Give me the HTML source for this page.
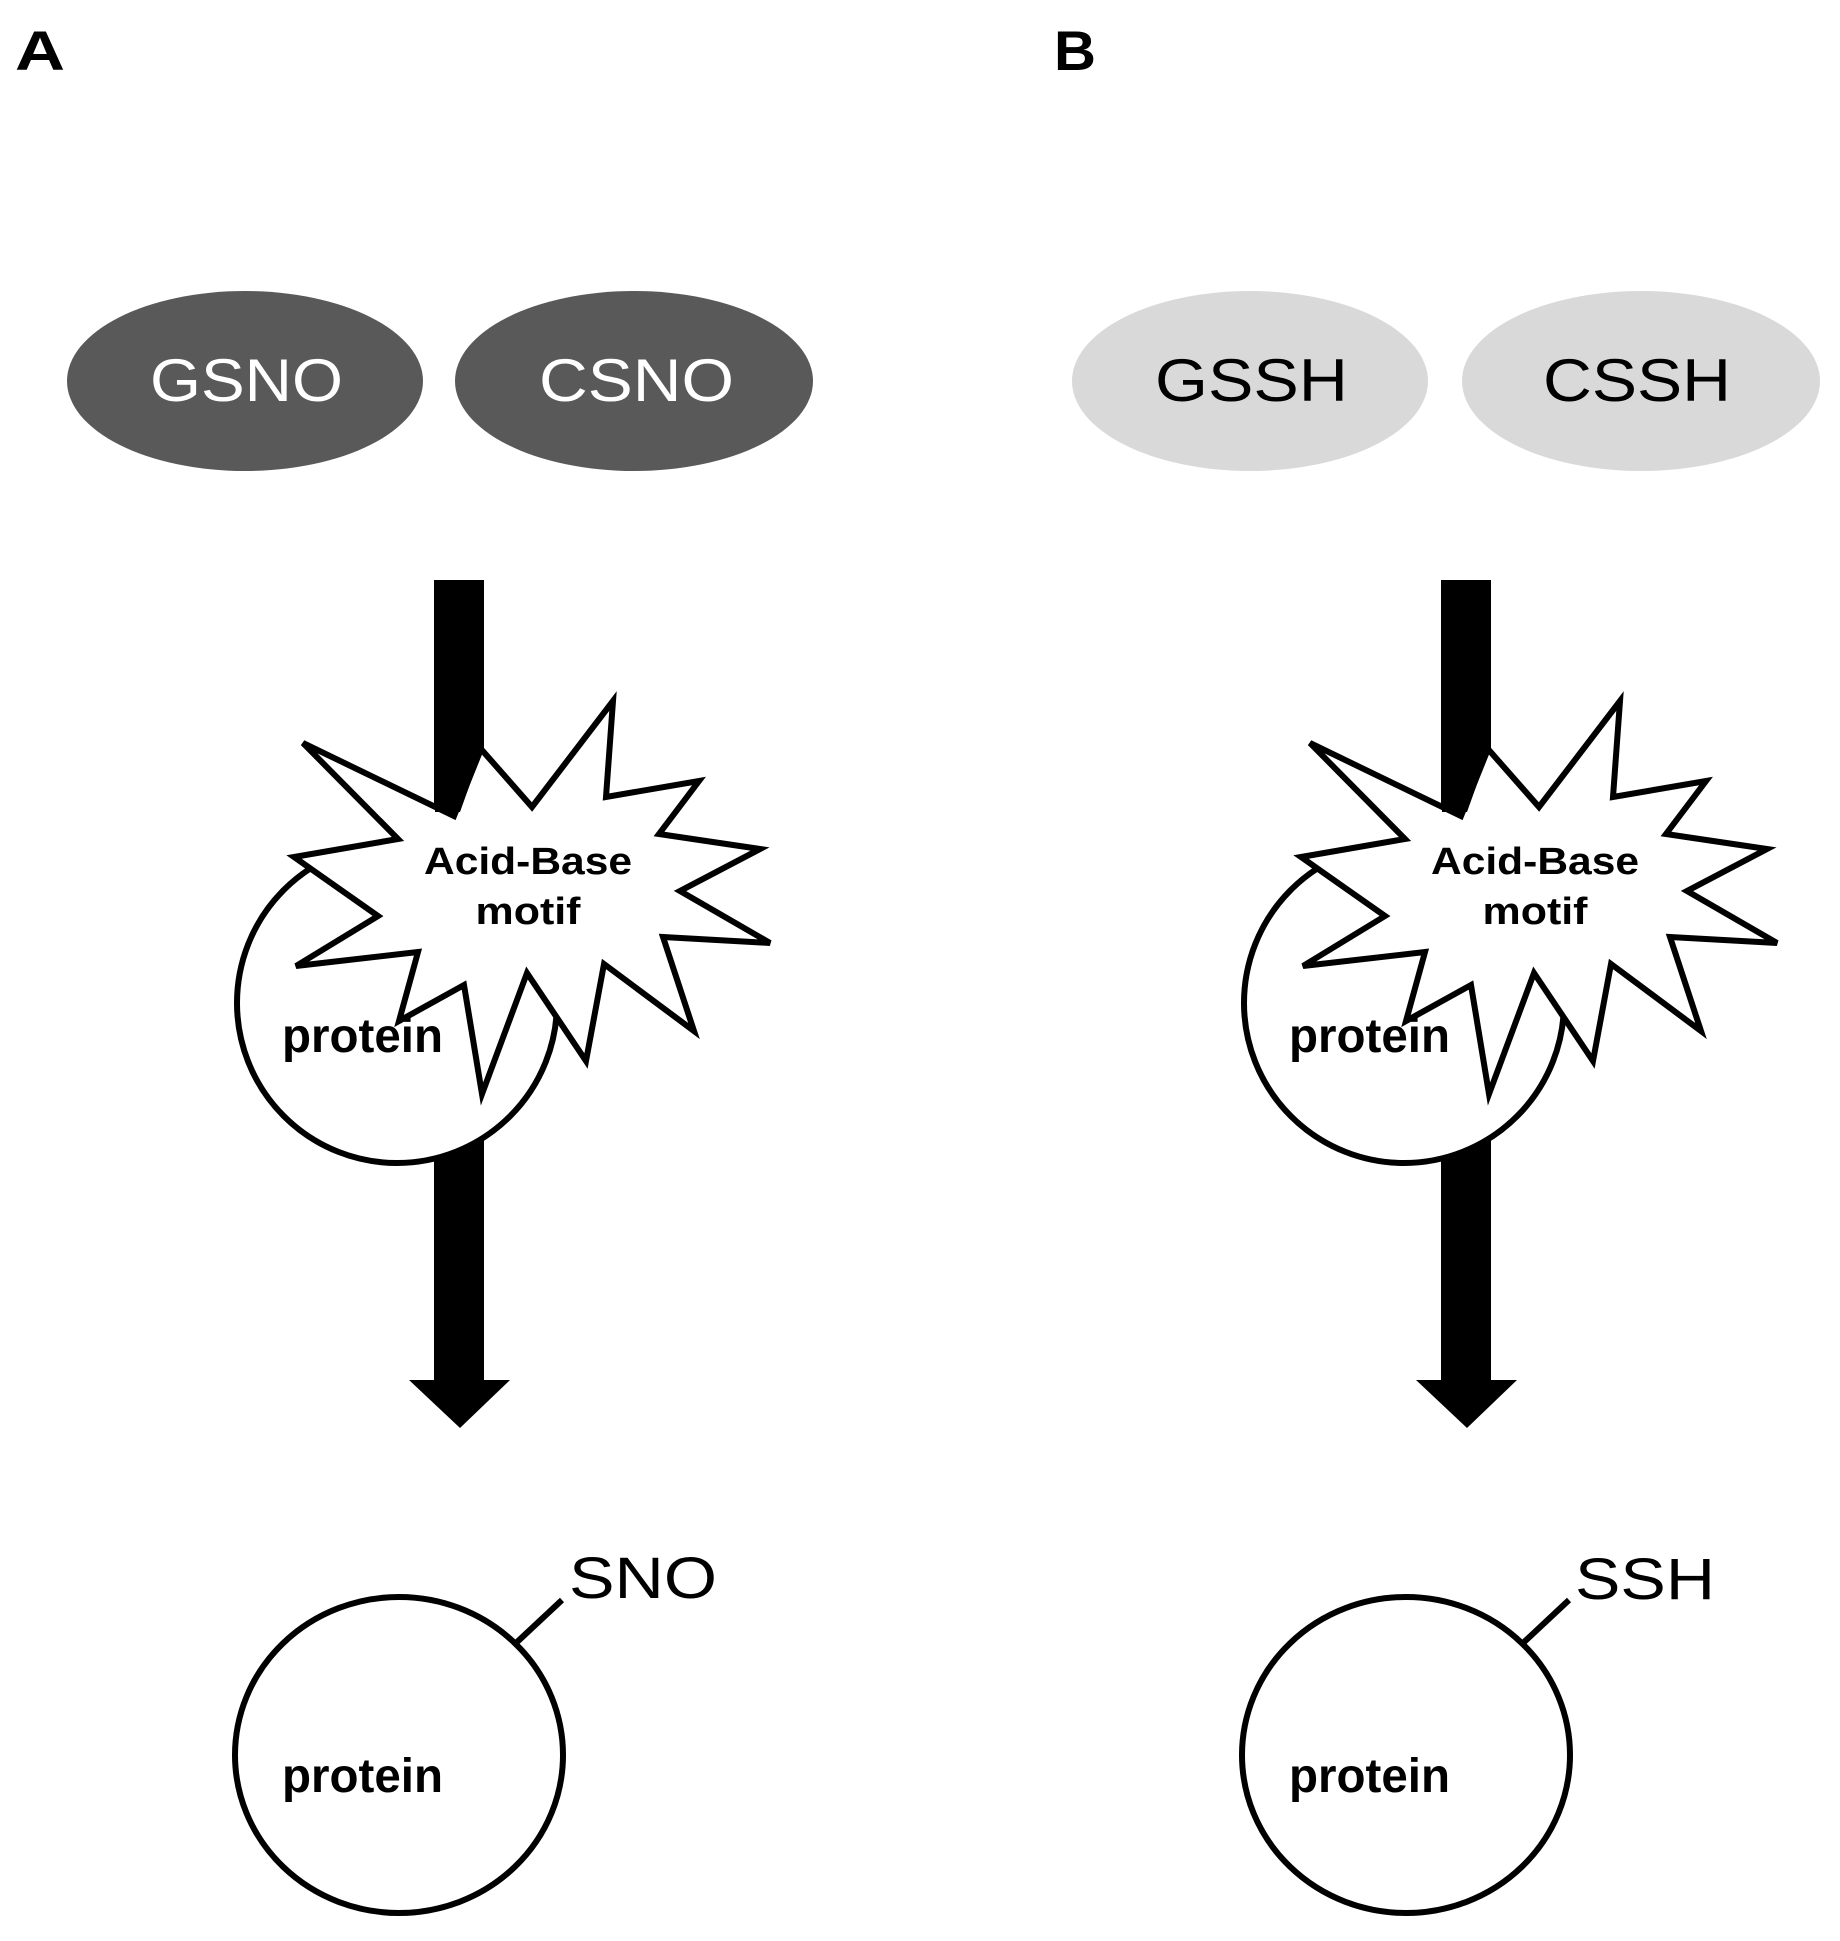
<!DOCTYPE html>
<html><head><style>html,body{margin:0;padding:0;background:#fff}svg{display:block}</style></head>
<body>
<svg width="1840" height="1941" viewBox="0 0 1840 1941" xmlns="http://www.w3.org/2000/svg" font-family="Liberation Sans, Arial, sans-serif">
<defs>
<g id="panel">
  <rect x="434" y="580" width="50" height="800" fill="#000"/>
  <polygon points="409,1380 510,1380 460,1428" fill="#000"/>
  <circle cx="397" cy="1003" r="160" fill="#fff" stroke="#000" stroke-width="6"/>
  <polygon fill="#fff" stroke="#000" stroke-width="6" stroke-linejoin="miter"
   points="303,743 454,816 481,749 532,807 613,701 606,797 699,781 659,834 760,849 680,891 770,943 663,937 694,1031 604,964 586,1061 527,973 482,1094 464,985 399,1021 418,952 296,966 378,916 294,857 398,839"/>
  <polygon points="435,700 484,700 484,745 460,812 435,812" fill="#000"/>
  <text x="528" y="874" font-size="38" font-weight="bold" text-anchor="middle" textLength="208" lengthAdjust="spacingAndGlyphs">Acid-Base</text>
  <text x="528" y="924" font-size="38" font-weight="bold" text-anchor="middle" textLength="105" lengthAdjust="spacingAndGlyphs">motif</text>
  <text x="282" y="1052" font-size="48" font-weight="bold" textLength="161" lengthAdjust="spacingAndGlyphs">protein</text>
  <ellipse cx="399" cy="1755" rx="164" ry="158" fill="#fff" stroke="#000" stroke-width="6"/>
  <line x1="516" y1="1643" x2="562" y2="1600" stroke="#000" stroke-width="6"/>
  <text x="282" y="1792" font-size="48" font-weight="bold" textLength="161" lengthAdjust="spacingAndGlyphs">protein</text>
</g>
</defs>
<use href="#panel"/>
<use href="#panel" transform="translate(1007,0)"/>
<text x="15" y="70" font-size="56" font-weight="bold" textLength="50" lengthAdjust="spacingAndGlyphs">A</text>
<text x="1054" y="70" font-size="56" font-weight="bold" textLength="42" lengthAdjust="spacingAndGlyphs">B</text>
<ellipse cx="245" cy="381" rx="178" ry="90" fill="#595959"/>
<ellipse cx="634" cy="381" rx="179" ry="90" fill="#595959"/>
<ellipse cx="1250" cy="381" rx="178" ry="90" fill="#d9d9d9"/>
<ellipse cx="1641" cy="381" rx="179" ry="90" fill="#d9d9d9"/>
<text x="150" y="401" font-size="60" fill="#fff" textLength="193" lengthAdjust="spacingAndGlyphs">GSNO</text>
<text x="539" y="401" font-size="60" fill="#fff" textLength="195" lengthAdjust="spacingAndGlyphs">CSNO</text>
<text x="1155" y="401" font-size="60" fill="#000" textLength="193" lengthAdjust="spacingAndGlyphs">GSSH</text>
<text x="1543" y="401" font-size="60" fill="#000" textLength="188" lengthAdjust="spacingAndGlyphs">CSSH</text>
<text x="569" y="1598" font-size="58" textLength="148" lengthAdjust="spacingAndGlyphs">SNO</text>
<text x="1575" y="1599" font-size="58" textLength="140" lengthAdjust="spacingAndGlyphs">SSH</text>
</svg>
</body></html>
